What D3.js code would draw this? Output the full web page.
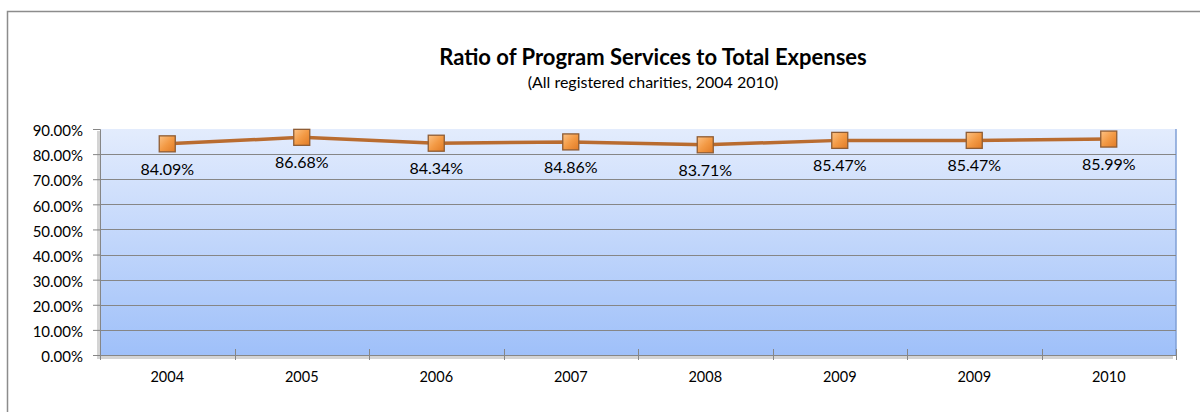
<!DOCTYPE html>
<html>
<head>
<meta charset="utf-8">
<script src="https://cdn.jsdelivr.net/npm/d3@7"></script>
<style>
  body { margin: 0; background: #fff; }
  text { font-family: Lato, "Open Sans", sans-serif; fill: #000; }
</style>
</head>
<body>
<div id="container"></div>
<script>
var years = ["2004", "2005", "2006", "2007", "2008", "2009", "2009", "2010"];
var ratios = [84.09, 86.68, 84.34, 84.86, 83.71, 85.47, 85.47, 85.99];
var labels = ["84.09%", "86.68%", "84.34%", "84.86%", "83.71%", "85.47%", "85.47%", "85.99%"];
var yTicks = [0, 10, 20, 30, 40, 50, 60, 70, 80, 90];

var width = 1200, height = 412;
var plot = { left: 100, right: 1176, top: 129, bottom: 355 };

var svg = d3.select("#container").append("svg")
    .attr("width", width)
    .attr("height", height);

var defs = svg.append("defs");

var bg = defs.append("linearGradient")
    .attr("id", "plotBg")
    .attr("x1", 0).attr("y1", 0).attr("x2", 0).attr("y2", 1);
bg.append("stop").attr("offset", "0%").attr("stop-color", "#e3ecfd");
bg.append("stop").attr("offset", "100%").attr("stop-color", "#9fc0f9");

var mk = defs.append("linearGradient")
    .attr("id", "markerFill")
    .attr("x1", 0).attr("y1", 0).attr("x2", 1).attr("y2", 1);
mk.append("stop").attr("offset", "0%").attr("stop-color", "#fcc285");
mk.append("stop").attr("offset", "50%").attr("stop-color", "#f39a45");
mk.append("stop").attr("offset", "100%").attr("stop-color", "#e07a25");

// outer chart border
svg.append("rect")
    .attr("x", 7.5).attr("y", 11.5)
    .attr("width", 1210).attr("height", 420)
    .attr("fill", "none")
    .attr("stroke", "#8c8c8c")
    .attr("stroke-width", 1.5);

svg.append("text")
    .attr("x", 653).attr("y", 65)
    .attr("text-anchor", "middle")
    .style("font-weight", "bold")
    .style("font-size", "22px")
    .text("Ratio of Program Services to Total Expenses");

svg.append("text")
    .attr("x", 653).attr("y", 88)
    .attr("text-anchor", "middle")
    .style("font-size", "16px")
    .text("(All registered charities, 2004 2010)");

var x = d3.scaleBand()
    .domain(d3.range(years.length))
    .range([plot.left, plot.right]);

var y = d3.scaleLinear()
    .domain([0, 90])
    .range([plot.bottom, plot.top]);

// plot area shadow
svg.append("rect")
    .attr("x", plot.left - 3).attr("y", plot.top + 2)
    .attr("width", plot.right - plot.left).attr("height", plot.bottom - plot.top + 2)
    .attr("fill", "#d4d4d4");

svg.append("rect")
    .attr("x", plot.left).attr("y", plot.top)
    .attr("width", plot.right - plot.left).attr("height", plot.bottom - plot.top)
    .attr("fill", "url(#plotBg)");

svg.append("line")
    .attr("x1", plot.right).attr("x2", plot.right)
    .attr("y1", plot.top).attr("y2", plot.bottom)
    .attr("stroke", "#7f9fd6").attr("stroke-width", 1.5);

// gridlines
svg.append("g")
    .selectAll("line")
    .data(yTicks.filter(d => d > 0 && d < 90))
    .enter().append("line")
    .attr("x1", plot.left).attr("x2", plot.right)
    .attr("y1", d => Math.round(y(d)) + 0.5).attr("y2", d => Math.round(y(d)) + 0.5)
    .attr("stroke", "#868686");

// y axis
var yAxis = svg.append("g")
    .attr("transform", `translate(${plot.left},0)`)
    .call(d3.axisLeft(y).tickValues(yTicks).tickSize(7).tickPadding(10)
        .tickFormat(d => d.toFixed(2) + "%"));
yAxis.select(".domain").attr("stroke", "#868686");
yAxis.selectAll(".tick line").attr("stroke", "#868686");
yAxis.selectAll(".tick text")
    .style("font-size", "15px")
    .attr("dy", "0.45em")
    .attr("fill", "#000");

// x axis with ticks at band boundaries
var xAxis = svg.append("g")
    .attr("transform", `translate(0,${plot.bottom})`);
xAxis.append("line")
    .attr("x1", plot.left).attr("x2", plot.right)
    .attr("y1", 0.5).attr("y2", 0.5)
    .attr("stroke", "#868686");
xAxis.selectAll("line.tk")
    .data(d3.range(years.length + 1))
    .enter().append("line")
    .attr("class", "tk")
    .attr("x1", d => Math.round(plot.left + d * x.step()) + 0.5)
    .attr("x2", d => Math.round(plot.left + d * x.step()) + 0.5)
    .attr("y1", -6).attr("y2", 5)
    .attr("stroke", "#868686");
xAxis.selectAll("text")
    .data(years)
    .enter().append("text")
    .attr("x", (d, i) => x(i) + x.bandwidth() / 2)
    .attr("y", 27)
    .attr("text-anchor", "middle")
    .style("font-size", "14.5px")
    .text(d => d);

// series line
var line = d3.line()
    .x((d, i) => x(i) + x.bandwidth() / 2)
    .y(d => y(d));

svg.append("path")
    .datum(ratios)
    .attr("d", line)
    .attr("fill", "none")
    .attr("stroke", "#b96c30")
    .attr("stroke-width", 3.5);

svg.selectAll("rect.marker")
    .data(ratios)
    .enter().append("rect")
    .attr("class", "marker")
    .attr("x", (d, i) => x(i) + x.bandwidth() / 2 - 8)
    .attr("y", d => y(d) - 8)
    .attr("width", 16).attr("height", 16)
    .attr("fill", "url(#markerFill)")
    .attr("stroke", "#8e5c34")
    .attr("stroke-width", 1.3);

svg.selectAll("text.value")
    .data(ratios)
    .enter().append("text")
    .attr("class", "value")
    .attr("x", (d, i) => x(i) + x.bandwidth() / 2)
    .attr("y", d => y(d) + 31)
    .attr("text-anchor", "middle")
    .style("font-size", "16px")
    .text((d, i) => labels[i]);
</script>
</body>
</html>
